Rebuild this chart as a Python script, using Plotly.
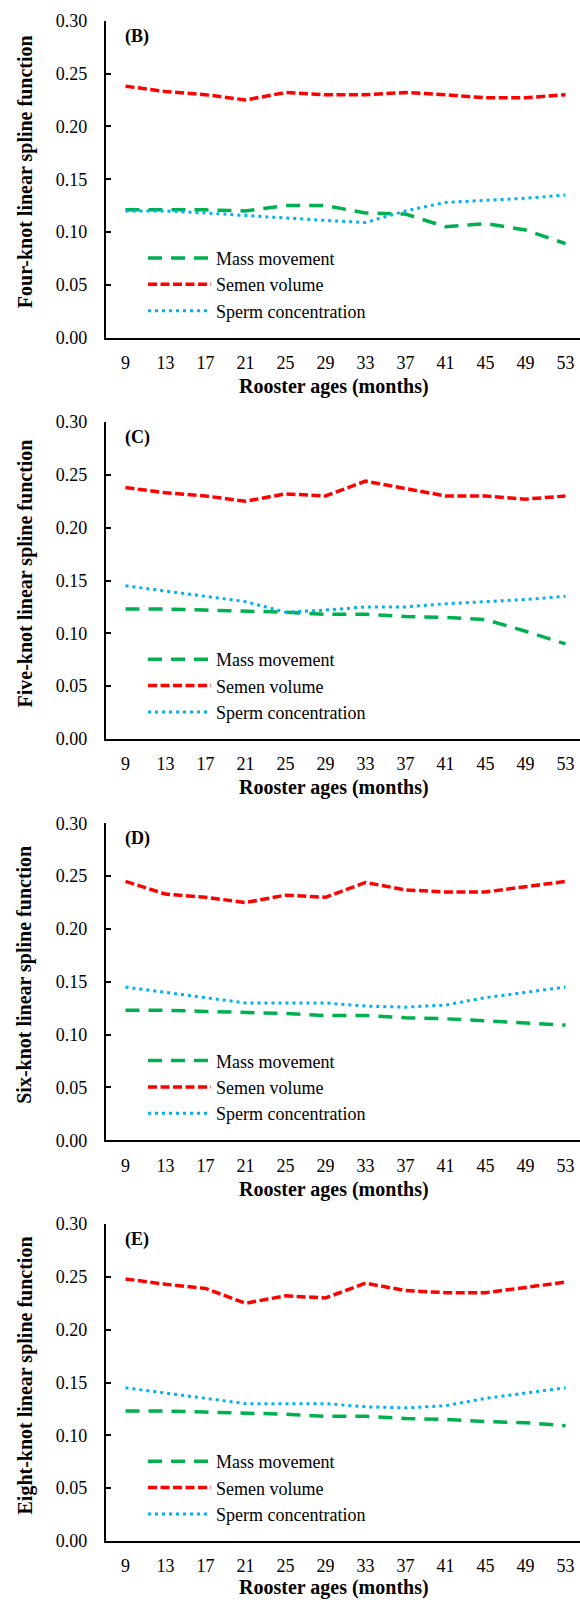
import plotly.graph_objects as go

# ---------------- data ----------------
ages = [9, 13, 17, 21, 25, 29, 33, 37, 41, 45, 49, 53]
y_ticks = [0.00, 0.05, 0.10, 0.15, 0.20, 0.25, 0.30]
series_names = ["Mass movement", "Semen volume", "Sperm concentration"]
panel_labels = ["(B)", "(C)", "(D)", "(E)"]
y_titles = [
    "Four-knot linear spline function",
    "Five-knot linear spline function",
    "Six-knot linear spline function",
    "Eight-knot linear spline function",
]
x_title = "Rooster ages (months)"

mass_B = [0.121, 0.121, 0.121, 0.120, 0.125, 0.125, 0.118, 0.117, 0.105, 0.108, 0.102, 0.089]
volume_B = [0.238, 0.233, 0.230, 0.225, 0.232, 0.230, 0.230, 0.232, 0.230, 0.227, 0.227, 0.230]
sperm_B = [0.120, 0.120, 0.118, 0.1155, 0.113, 0.111, 0.109, 0.120, 0.128, 0.130, 0.132, 0.135]

mass_C = [0.123, 0.123, 0.122, 0.121, 0.120, 0.118, 0.118, 0.116, 0.115, 0.113, 0.102, 0.090]
volume_C = [0.238, 0.233, 0.230, 0.225, 0.232, 0.230, 0.244, 0.237, 0.230, 0.230, 0.227, 0.230]
sperm_C = [0.145, 0.140, 0.135, 0.130, 0.120, 0.122, 0.125, 0.125, 0.128, 0.130, 0.132, 0.135]

mass_D = [0.123, 0.123, 0.122, 0.121, 0.120, 0.118, 0.118, 0.116, 0.115, 0.113, 0.111, 0.109]
volume_D = [0.245, 0.233, 0.230, 0.225, 0.232, 0.230, 0.244, 0.237, 0.235, 0.235, 0.240, 0.245]
sperm_D = [0.145, 0.140, 0.135, 0.130, 0.130, 0.130, 0.127, 0.126, 0.128, 0.135, 0.140, 0.145]

mass_E = [0.123, 0.123, 0.122, 0.121, 0.120, 0.118, 0.118, 0.116, 0.115, 0.113, 0.112, 0.109]
volume_E = [0.248, 0.243, 0.239, 0.225, 0.232, 0.230, 0.244, 0.237, 0.235, 0.235, 0.240, 0.245]
sperm_E = [0.145, 0.140, 0.135, 0.130, 0.130, 0.130, 0.127, 0.126, 0.128, 0.135, 0.140, 0.145]

panels = [
    (mass_B, volume_B, sperm_B),
    (mass_C, volume_C, sperm_C),
    (mass_D, volume_D, sperm_D),
    (mass_E, volume_E, sperm_E),
]

# ---------------- style ----------------
W, H = 580, 1600
FONT = "Liberation Serif"
line_styles = [
    dict(color="#00B050", width=3.5, dash="14px,9px"),
    dict(color="#FF0000", width=3.5, dash="9px,3.5px"),
    dict(color="#00B0F0", width=3, dash="3px,4px"),
]
tops = [20.7, 422.0, 823.3, 1224.0]
plot_h = 317.0
axis_left = 105.5
px_per_month = 10.0
x_min = 7
x_max = x_min + (W - axis_left) / px_per_month


def py(p):
    return 1 - p / H


def px(p):
    return p / W


fig = go.Figure()
layout = dict(
    width=W, height=H,
    margin=dict(l=0, r=0, t=0, b=0, autoexpand=False),
    paper_bgcolor="white", plot_bgcolor="white",
    font=dict(family=FONT, size=18, color="black"),
    showlegend=True,
)
annotations = []

for i, data in enumerate(panels):
    n = i + 1
    xa = "x" if n == 1 else f"x{n}"
    ya = "y" if n == 1 else f"y{n}"
    lg = "legend" if n == 1 else f"legend{n}"
    for name, vals, st in zip(series_names, data, line_styles):
        fig.add_trace(go.Scatter(
            x=ages, y=vals, mode="lines", name=name, line=st,
            xaxis=xa, yaxis=ya, legend=lg, hoverinfo="skip",
        ))
    top = tops[i]
    bot = top + plot_h
    layout[f"xaxis{'' if n == 1 else n}"] = dict(
        domain=[px(axis_left), 1], range=[x_min, x_max], anchor=ya,
        tickmode="array", tickvals=ages, ticktext=[str(a) for a in ages],
        showline=True, linecolor="black", linewidth=1.5, ticks="",
        showgrid=False, zeroline=False, ticklabelstandoff=8,
        automargin=False,
        tickfont=dict(size=18, family=FONT, color="black"),
    )
    layout[f"yaxis{'' if n == 1 else n}"] = dict(
        domain=[py(bot), py(top)], range=[0, 0.30], anchor=xa,
        tickmode="array", tickvals=y_ticks, tickformat=".2f",
        showline=True, linecolor="black", linewidth=1.5,
        ticks="inside", ticklen=6, tickwidth=1.5, tickcolor="black",
        showgrid=False, zeroline=False, ticklabelstandoff=13,
        automargin=False,
        tickfont=dict(size=18, family=FONT, color="black"),
    )
    layout[lg] = dict(
        x=px(143), y=py(bot - 98), xanchor="left", yanchor="top",
        bgcolor="rgba(0,0,0,0)", borderwidth=0,
        font=dict(size=18, family=FONT, color="black"),
        tracegroupgap=0, itemwidth=63,
    )
    annotations.append(dict(
        text=f"<b>{y_titles[i]}</b>", textangle=-90,
        x=px(25), y=py((top + bot) / 2 - 7), xref="paper", yref="paper",
        xanchor="center", yanchor="middle", showarrow=False,
        font=dict(size=20, family=FONT, color="black"),
    ))
    annotations.append(dict(
        text=f"<b>{x_title}</b>",
        x=px(334), y=py(min(bot + 49, 1587)), xref="paper", yref="paper",
        xanchor="center", yanchor="middle", showarrow=False,
        font=dict(size=20, family=FONT, color="black"),
    ))
    annotations.append(dict(
        text=f"<b>{panel_labels[i]}</b>",
        x=px(123), y=py(top + 15.5), xref="paper", yref="paper",
        xanchor="left", yanchor="middle", showarrow=False,
        font=dict(size=18, family=FONT, color="black"),
    ))

layout["annotations"] = annotations
fig.update_layout(**layout)
fig.write_html(
    "out.html",
    config={"displayModeBar": False},
    post_script="document.body.style.margin='0px';document.body.style.overflow='hidden';",
)
